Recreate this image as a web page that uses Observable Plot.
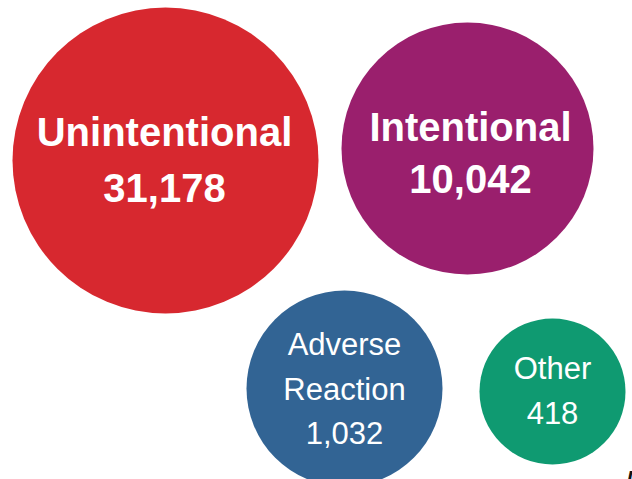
<!DOCTYPE html>
<html>
<head>
<meta charset="utf-8">
<script src="https://cdn.jsdelivr.net/npm/d3@7"></script>
<script src="https://cdn.jsdelivr.net/npm/@observablehq/plot@0.6"></script>
<style>
  html, body { margin: 0; padding: 0; background: #fff; }
  #chart svg { display: block; }
</style>
</head>
<body>
<div id="chart"></div>
<script>
// Data
const categories = ["Unintentional", "Intentional", "Adverse\nReaction", "Other"];
const counts = [31178, 10042, 1032, 418];
// Layout (bubble placement, in pixel-like units)
const centerX = [165, 467, 344, 552];
const centerY = [160, 148, 388, 391];
const radii = [153, 126, 98, 73];
const colors = ["#d7282f", "#9a1f6d", "#326494", "#0f9a71"];

const fmt = d3.format(",");
const rows = categories.map((c, i) => ({
  category: c,
  count: counts[i],
  cx: centerX[i],
  cy: centerY[i],
  r: radii[i],
  color: colors[i],
  label: c + "\n" + fmt(counts[i])
}));

const textMark = (filter, opts) => Plot.text(rows.filter(filter), {
  x: "cx", y: "cy", text: "label", fill: "white",
  lineAnchor: "middle", textAnchor: "middle",
  fontFamily: "'Liberation Sans', Arial, sans-serif",
  ...opts
});

const chart = Plot.plot({
  width: 632,
  height: 479,
  margin: 0,
  x: {domain: [0, 632], range: [0, 632], axis: null},
  y: {domain: [0, 479], range: [0, 479], axis: null},
  r: {type: "identity"},
  marks: [
    Plot.dot(rows, {x: "cx", y: "cy", r: "r", fill: "color", stroke: null}),
    textMark(d => d.category === "Unintentional", {fontSize: 40, fontWeight: "bold", lineHeight: 1.4, letterSpacing: -1.1, dy: -4, dx: -1}),
    textMark(d => d.category === "Intentional", {fontSize: 40, fontWeight: "bold", lineHeight: 1.3, letterSpacing: -0.8, dy: 2, dx: 3}),
    textMark(d => d.category.startsWith("Adverse"), {fontSize: 31, lineHeight: 1.44, dy: -3}),
    textMark(d => d.category === "Other", {fontSize: 31, lineHeight: 1.45, dy: -4}),
    Plot.text(["N"], {x: 626, y: 479, text: d => d, textAnchor: "start", lineAnchor: "bottom", fill: "#111", fontSize: 22, fontWeight: "bold", fontStyle: "italic", fontFamily: "'Liberation Sans', Arial, sans-serif", dy: 6})
  ]
});
document.getElementById("chart").appendChild(chart);
</script>
</body>
</html>
